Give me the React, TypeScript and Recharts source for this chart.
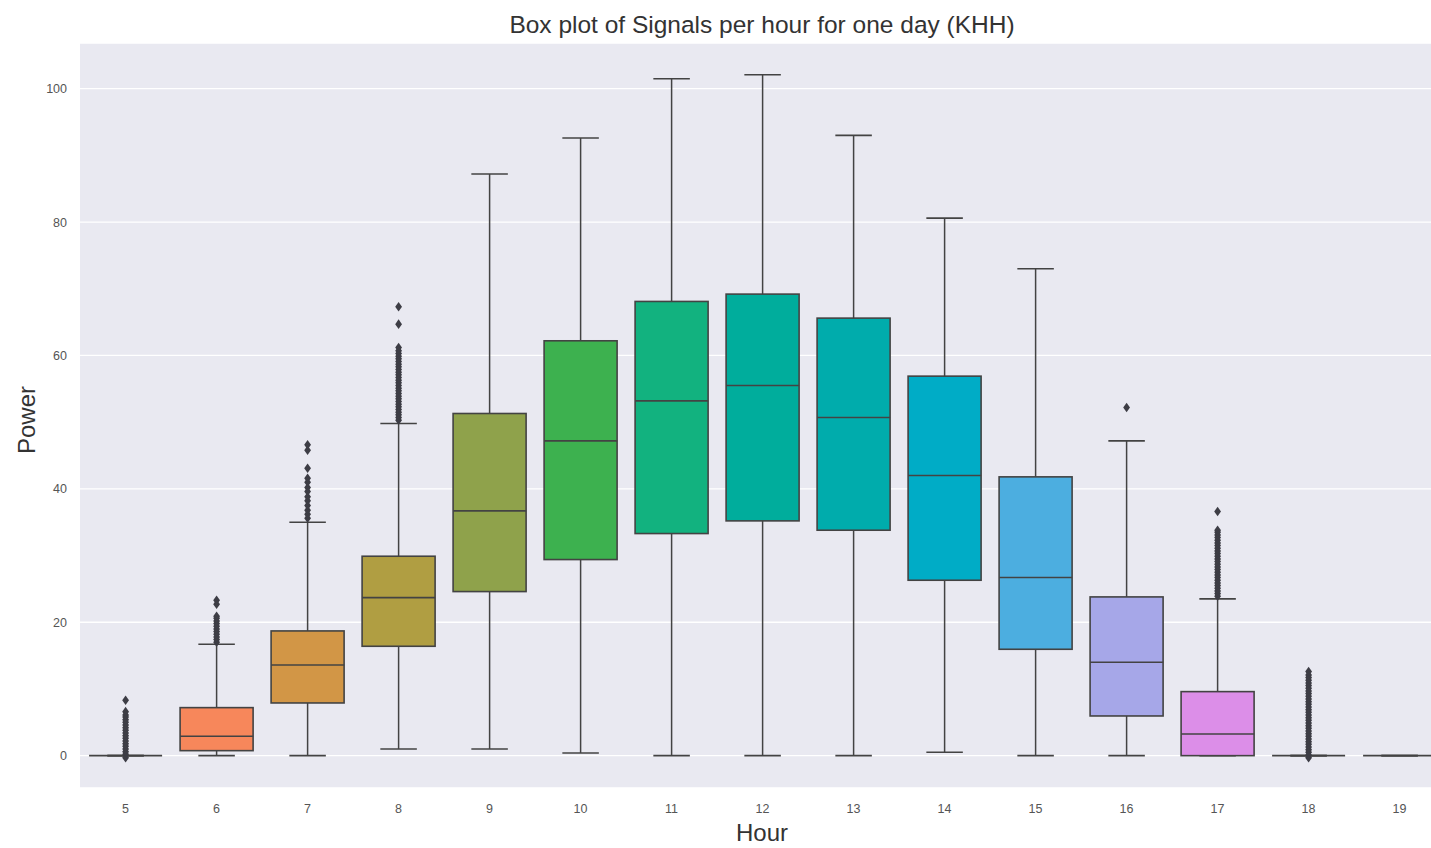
import React from 'react';
import { ComposedChart, Bar, XAxis, YAxis, CartesianGrid } from 'recharts';

// Hour of day for each box
const hours = ['5', '6', '7', '8', '9', '10', '11', '12', '13', '14', '15', '16', '17', '18', '19'];

// Five-number summaries per hour (Power)
const whiskerLow = [0, 0, 0, 1.0, 1.0, 0.4, 0, 0, 0, 0.5, 0, 0, 0, 0, 0];
const q1 = [0, 0.75, 7.9, 16.4, 24.6, 29.4, 33.3, 35.2, 33.8, 26.3, 15.95, 5.95, 0, 0, 0];
const median = [0, 2.9, 13.6, 23.7, 36.7, 47.2, 53.2, 55.5, 50.7, 42.0, 26.7, 14.0, 3.25, 0, 0];
const q3 = [0, 7.2, 18.7, 29.9, 51.3, 62.2, 68.1, 69.2, 65.6, 56.9, 41.8, 23.8, 9.6, 0, 0];
const whiskerHigh = [0, 16.7, 35.0, 49.8, 87.2, 92.6, 101.5, 102.1, 93.0, 80.6, 73.0, 47.2, 23.5, 0, 0];

// Outlying readings per hour
const outliers5 = [-0.3, 0.2, 0.6, 1.0, 1.4, 1.8, 2.2, 2.6, 3.0, 3.4, 3.8, 4.2, 4.6, 5.0, 5.4, 5.8, 6.1, 6.6, 8.3];
const outliers6 = [17.0, 17.4, 17.8, 18.2, 18.6, 19.0, 19.4, 19.8, 20.2, 20.6, 20.9, 22.7, 23.3];
const outliers7 = [35.6, 36.2, 36.8, 37.5, 38.2, 38.8, 39.6, 40.2, 41.0, 41.6, 43.1, 45.8, 46.6];
const outliers8 = [
  50.3, 50.7, 51.1, 51.5, 51.9, 52.3, 52.7, 53.1, 53.5, 53.9, 54.3, 54.7, 55.1, 55.5,
  55.9, 56.3, 56.7, 57.1, 57.5, 57.9, 58.3, 58.7, 59.1, 59.5, 59.9, 60.3, 60.7, 61.2, 64.7, 67.3,
];
const outliers16 = [52.2];
const outliers17 = [
  23.9, 24.3, 24.7, 25.1, 25.5, 25.9, 26.3, 26.7, 27.1, 27.5, 27.9, 28.3, 28.7, 29.1,
  29.5, 29.9, 30.3, 30.7, 31.1, 31.5, 31.9, 32.3, 32.7, 33.1, 33.5, 33.8, 36.6,
];
const outliers18 = [
  -0.3, 0.1, 0.5, 0.9, 1.3, 1.7, 2.1, 2.5, 2.9, 3.3, 3.7, 4.1, 4.5, 4.9, 5.3, 5.7, 6.1,
  6.5, 6.9, 7.3, 7.7, 8.1, 8.5, 8.9, 9.3, 9.7, 10.1, 10.5, 10.9, 11.3, 11.7, 12.1, 12.6,
];
const outliers = [
  outliers5, outliers6, outliers7, outliers8, [], [], [], [], [], [], [], outliers16, outliers17, outliers18, [],
];

const boxColors = [
  '#ee7089', '#f7875b', '#d29646', '#b09e42', '#8fa24b', '#3db14f', '#12b27f', '#00ad9c',
  '#00acac', '#00acc6', '#4caee0', '#a6a7e8', '#dc8ee8', '#f27ac6', '#f47a9c',
];

const yTicks = [0, 20, 40, 60, 80, 100];
const yDomain = [-4.85, 106.85];

const rows = hours.map((hour, i) => {
  const pts = outliers[i];
  const lo = Math.min(whiskerLow[i], ...pts);
  const hi = Math.max(whiskerHigh[i], ...pts);
  return {
    hour,
    span: [lo, hi],
    lo,
    hi,
    whiskerLow: whiskerLow[i],
    q1: q1[i],
    median: median[i],
    q3: q3[i],
    whiskerHigh: whiskerHigh[i],
    outliers: pts,
    color: boxColors[i],
  };
});

const EDGE = '#434343';
const FONT = '"Liberation Sans", Arial, Helvetica, sans-serif';

// Draws one box with whiskers and outliers inside the bar slot that spans [lo, hi]
const BoxShape = (props: any) => {
  const { x, y, width, height, payload } = props;
  const p = payload;
  const span = p.hi - p.lo;
  const toPx = (v: number) => (span > 0 ? y + ((p.hi - v) / span) * height : y);
  const cx = x + width / 2;
  const capHalf = width / 4;
  const yQ1 = toPx(p.q1);
  const yQ3 = toPx(p.q3);
  const yMed = toPx(p.median);
  const yLo = toPx(p.whiskerLow);
  const yHi = toPx(p.whiskerHigh);
  return (
    <g>
      <line x1={cx} x2={cx} y1={yHi} y2={yQ3} stroke={EDGE} strokeWidth={1.5} />
      <line x1={cx} x2={cx} y1={yQ1} y2={yLo} stroke={EDGE} strokeWidth={1.5} />
      <line x1={cx - capHalf} x2={cx + capHalf} y1={yHi} y2={yHi} stroke={EDGE} strokeWidth={1.6} />
      <line x1={cx - capHalf} x2={cx + capHalf} y1={yLo} y2={yLo} stroke={EDGE} strokeWidth={1.6} />
      <rect
        x={x}
        y={yQ3}
        width={width}
        height={Math.max(0, yQ1 - yQ3)}
        fill={p.color}
        stroke={EDGE}
        strokeWidth={1.6}
      />
      <line x1={x} x2={x + width} y1={yMed} y2={yMed} stroke={EDGE} strokeWidth={1.6} />
      {p.outliers.map((v: number, k: number) => {
        const oy = toPx(v);
        return (
          <polygon
            key={k}
            points={`${cx},${oy - 4.8} ${cx + 3.4},${oy} ${cx},${oy + 4.8} ${cx - 3.4},${oy}`}
            fill="#3d3d45"
          />
        );
      })}
    </g>
  );
};

export default function App() {
  return (
    <div
      style={{
        position: 'absolute',
        left: 0,
        top: 0,
        width: 1431,
        height: 848,
        overflow: 'hidden',
        background: '#ffffff',
        fontFamily: FONT,
      }}
    >
      <div
        style={{
          position: 'absolute',
          left: 762,
          top: 13,
          transform: 'translateX(-50%)',
          whiteSpace: 'nowrap',
          fontSize: 24.5,
          lineHeight: '24px',
          color: '#333333',
        }}
      >
        Box plot of Signals per hour for one day (KHH)
      </div>
      <ComposedChart
        width={1445}
        height={848}
        data={rows}
        margin={{ top: 43, right: 0, bottom: 30, left: 20 }}
        barCategoryGap="10%"
      >
        <CartesianGrid vertical={false} horizontal fill="#e9e9f1" stroke="#ffffff" strokeWidth={1.3} />
        <XAxis
          dataKey="hour"
          type="category"
          axisLine={false}
          tickLine={false}
          tickSize={0}
          tickMargin={16}
          height={30}
          tick={{ fill: '#555555', fontSize: 12.5, fontFamily: FONT }}
          interval={0}
        />
        <YAxis
          type="number"
          domain={yDomain}
          ticks={yTicks}
          allowDataOverflow
          axisLine={false}
          tickLine={false}
          tickSize={0}
          tickMargin={13}
          width={60}
          tick={{ fill: '#555555', fontSize: 12.5, fontFamily: FONT }}
        />
        <Bar dataKey="span" shape={BoxShape} isAnimationActive={false} />
      </ComposedChart>
      <div
        style={{
          position: 'absolute',
          left: 27,
          top: 420,
          transform: 'translate(-50%, -50%) rotate(-90deg)',
          whiteSpace: 'nowrap',
          fontSize: 24,
          lineHeight: '24px',
          color: '#333333',
        }}
      >
        Power
      </div>
      <div
        style={{
          position: 'absolute',
          left: 762,
          top: 821,
          transform: 'translateX(-50%)',
          whiteSpace: 'nowrap',
          fontSize: 24,
          lineHeight: '24px',
          color: '#333333',
        }}
      >
        Hour
      </div>
    </div>
  );
}
